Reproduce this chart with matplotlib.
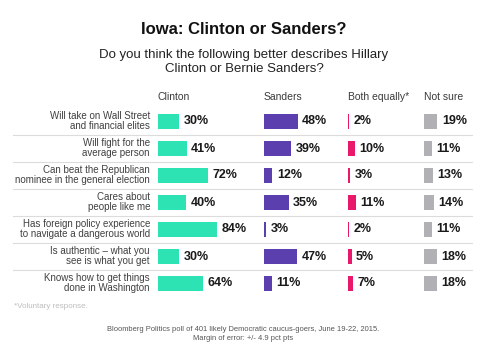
import matplotlib
matplotlib.use("Agg")
import matplotlib.pyplot as plt

plt.rcParams['font.family'] = ['Liberation Sans', 'DejaVu Sans']

labels = [
    "Will take on Wall Street\nand financial elites",
    "Will fight for the\naverage person",
    "Can beat the Republican\nnominee in the general election",
    "Cares about\npeople like me",
    "Has foreign policy experience\nto navigate a dangerous world",
    "Is authentic \u2013 what you\nsee is what you get",
    "Knows how to get things\ndone in Washington",
]
columns = ["Clinton", "Sanders", "Both equally*", "Not sure"]
clinton = [30, 41, 72, 40, 84, 30, 64]
sanders = [48, 39, 12, 35, 3, 47, 11]
both = [2, 10, 3, 11, 2, 5, 7]
not_sure = [19, 11, 13, 14, 11, 18, 18]
series = [clinton, sanders, both, not_sure]
colors = ["#2de3b3", "#5b3fae", "#e8196a", "#b1b1b5"]

# layout in pixels
W, H = 488, 352
col_x = [158, 264, 348, 424]
px_per_pct = 0.70
row0, row_step = 121, 27
bar_h = 15

fig = plt.figure(figsize=(W / 100, H / 100), dpi=100)
ax = fig.add_axes([0, 0, 1, 1])
ax.set_xlim(0, W)
ax.set_ylim(H, 0)
ax.axis("off")

ys = [row0 + i * row_step for i in range(len(labels))]

# separators
for y in ys[:-1]:
    ax.plot([13, 472], [y + 13.5, y + 13.5], color="#dcdcdc", lw=0.8)

for x0, vals, c, name in zip(col_x, series, colors, columns):
    widths = [max(v * px_per_pct, 1.4) for v in vals]
    ax.barh(ys, widths, left=x0, height=bar_h, color=c)
    ax.text(x0, 97, name, fontsize=7.5, color="#3a3a3a", va="center", ha="left")
    for y, w, v in zip(ys, widths, vals):
        ax.text(x0 + w + 4.5, y + 0.5, f"{v}%", fontsize=9, fontweight="bold",
                color="#1a1a1a", va="center", ha="left")

for y, lab in zip(ys, labels):
    ax.text(150, y, lab, fontsize=7, color="#404040", ha="right", va="center",
            linespacing=1.1)

fig.text(244 / W, 1 - 30 / H, "Iowa: Clinton or Sanders?", fontsize=12,
         fontweight="bold", ha="center", va="center", color="#111111")
fig.text(244 / W, 1 - 62 / H,
         "Do you think the following better describes Hillary\nClinton or Bernie Sanders?",
         fontsize=9.5, ha="center", va="center", color="#222222", linespacing=1.2)

ax.text(14, 307, "*Voluntary response.", fontsize=5.8, color="#bdbdbd",
        ha="left", va="center")
ax.text(243, 334,
        "Bloomberg Politics poll of 401 likely Democratic caucus-goers, June 19-22, 2015.\n"
        "Margin of error: +/- 4.9 pct pts",
        fontsize=5.4, color="#555555", ha="center", va="center", linespacing=1.3)

fig.savefig("out.png", dpi=100)
